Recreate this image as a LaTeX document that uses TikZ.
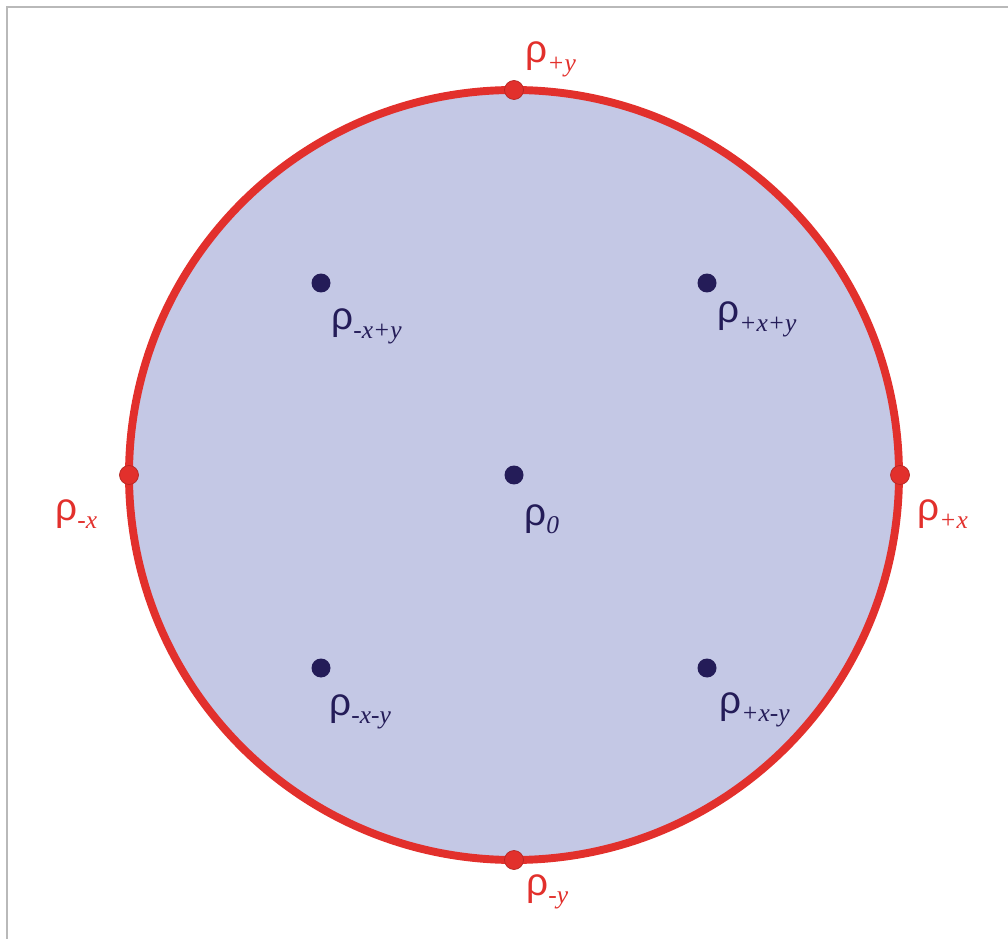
\documentclass[tikz,border=0pt]{standalone}
\usepackage{fontspec}
\usepackage{tikz}
\usepackage{xcolor}
\usetikzlibrary{positioning}

\newfontfamily\rhofont{Liberation Sans}
\newfontfamily\subfont{Liberation Serif Italic}
\definecolor{discfill}{RGB}{196,200,229}
\definecolor{rimred}{RGB}{226,48,44}
\definecolor{dotnavy}{RGB}{36,28,88}
\newcommand{\rholabel}[1]{{\rhofont\fontsize{22}{22}\selectfont ρ}\raisebox{-5pt}{\subfont\fontsize{14.5}{14.5}\selectfont #1}}

\tikzset{
    rimdot/.style={circle, fill=rimred, draw=rimred!80!black, line width=0.4pt, minimum size=0.38cm, inner sep=0pt},
    innerdot/.style={circle, fill=dotnavy, minimum size=0.38cm, inner sep=0pt},
    rimlabel/.style={anchor=base west, inner sep=0pt, text=rimred},
    innerlabel/.style={anchor=base west, inner sep=0pt, text=dotnavy}
}

\begin{document}
\begin{tikzpicture}[x=0.02cm, y=-0.02cm]
    \useasboundingbox (0,0) rectangle (1008,939);
    % Frame
    \draw[gray!55, line width=1pt] (7,939) -- (7,7) -- (1008,7);

    % Disc with its rim
    \draw[rimred, fill=discfill, line width=4.5pt] (514,475) circle (385);

    % Points on the rim
    \node[rimdot] (py) at (514,90) {};
    \node[rimdot] (pmy) at (514,860) {};
    \node[rimdot] (pmx) at (129,475) {};
    \node[rimdot] (px) at (900,475) {};
    \node[rimlabel] (lpy) at (525,63) {\rholabel{+y}};
    \node[rimlabel] (lpmy) at (526,895) {\rholabel{-y}};
    \node[rimlabel] (lpmx) at (55,520) {\rholabel{-x}};
    \node[rimlabel] (lpx) at (917,520) {\rholabel{+x}};

    % Points inside
    \node[innerdot] (p0) at (514,475) {};
    \node[innerdot] (pmxy) at (321,283) {};
    \node[innerdot] (pxy) at (707,283) {};
    \node[innerdot] (pmxmy) at (321,668) {};
    \node[innerdot] (pxmy) at (707,668) {};
    \node[innerlabel] (lp0) at (524,525) {\rholabel{0}};
    \node[innerlabel] (lpmxy) at (331,330) {\rholabel{-x+y}};
    \node[innerlabel] (lpxy) at (717,323) {\rholabel{+x+y}};
    \node[innerlabel] (lpmxmy) at (329,715) {\rholabel{-x-y}};
    \node[innerlabel] (lpxmy) at (719,713) {\rholabel{+x-y}};
\end{tikzpicture}
\end{document}
